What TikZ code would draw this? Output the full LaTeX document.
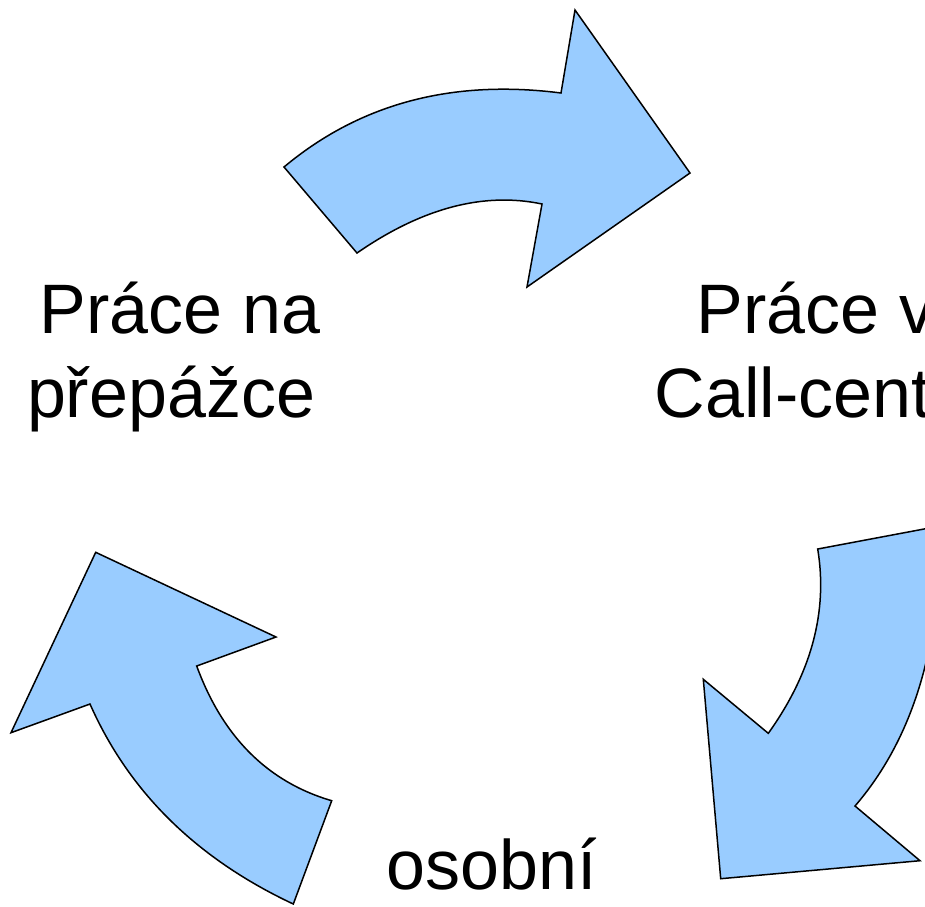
\documentclass[tikz,border=0pt]{standalone}
\usepackage{fontspec}
\setmainfont{Liberation Sans}
\definecolor{arrowblue}{HTML}{99CCFF}
\begin{document}
\begin{tikzpicture}[x=1pt,y=-1pt,
  bigarrow/.style={fill=arrowblue,draw=black,line width=1.5pt,line join=miter},
  lbl/.style={anchor=base,inner sep=0pt,font=\fontsize{70}{85}\selectfont}]
\useasboundingbox (0,0) rectangle (925,906);
% top arrow
\draw[bigarrow] (284,167) .. controls (359.7,103.7) and (452,79) .. (561,93)
  -- (575,10) -- (690,173) -- (527,287) -- (542,204)
  .. controls (483.7,191.7) and (422,208) .. (357,253) -- cycle;
% right arrow
\draw[bigarrow] (940,526) -- (817.7,549)
  .. controls (828,611.5) and (811.4,673) .. (768.3,733.3)
  -- (703.3,679.3) -- (720.7,878.7) -- (920,860.7) -- (855,806)
  .. controls (913,738.7) and (941.3,645.3) .. (940,526) -- cycle;
% left arrow
\draw[bigarrow] (293.3,904) .. controls (196.7,858.7) and (128.9,792) .. (90,704)
  -- (11,732.7) -- (95.7,552.3) -- (276,637) -- (196.7,666)
  .. controls (222.8,737.1) and (267.8,782) .. (331.7,800.7) -- cycle;
% labels
\node[lbl] (l1a) at (180,333) {Práce na};
\node[lbl] (l1b) at (171,417) {přepážce};
\node[lbl] (l2a) at (815.5,333) {Práce v};
\node[lbl] (l2b) at (824,417) {Call-centru};
\node[lbl] (l3a) at (492,889) {osobní};
\end{tikzpicture}
\end{document}
